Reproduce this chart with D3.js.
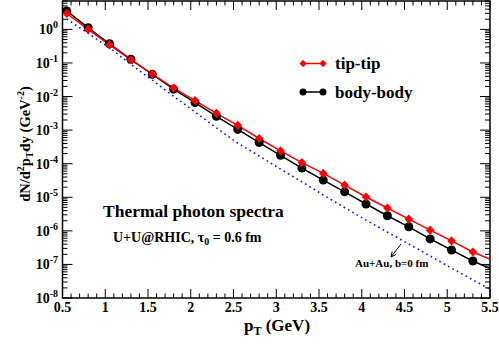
<!DOCTYPE html>
<html><head><meta charset="utf-8">
<script src="https://cdn.jsdelivr.net/npm/d3@7"></script>
<style>body{margin:0;background:#fff}svg{display:block}text{font-family:"Liberation Serif","Times New Roman",serif;font-weight:bold}</style>
</head><body><svg id="c" width="499" height="345"></svg>
<script>
const pT = [0.55,0.8,1.05,1.3,1.55,1.8,2.05,2.3,2.55,2.8,3.05,3.3,3.55,3.8,4.05,4.3,4.55,4.8,5.05,5.3];
const tipTip = [2.99,1.0,0.347,0.123,0.0468,0.0178,7.59e-3,3.16e-3,1.38e-3,5.62e-4,2.40e-4,1.07e-4,5.13e-5,2.29e-5,1.02e-5,4.79e-6,2.24e-6,1.05e-6,5.01e-7,2.34e-7];
const bodyBody = [3.55,1.12,0.372,0.129,0.0457,0.0166,6.61e-3,2.57e-3,1.05e-3,4.27e-4,1.78e-4,7.41e-5,3.24e-5,1.45e-5,6.31e-6,2.82e-6,1.32e-6,5.75e-7,2.69e-7,1.26e-7];
const endPT = 5.5;
const tipTipEnd = 1.41e-7;
const bodyBodyEnd = 7.5e-8;
const auAuPT = [0.55,0.8,1.05,1.3,1.55,1.8,2.05,2.3,2.55,2.8,3.05,3.3,3.55,3.8,4.05,4.3,4.55,4.8,5.05,5.3,5.5];
const auAu = [2.04,0.759,0.282,0.0912,0.0309,0.0102,3.47e-3,1.17e-3,4.07e-4,1.70e-4,6.92e-5,2.88e-5,1.17e-5,4.90e-6,2.09e-6,9.12e-7,4.07e-7,1.78e-7,7.76e-8,3.47e-8,1.82e-8];
const xTicks = [0.5,1,1.5,2,2.5,3,3.5,4,4.5,5,5.5];
const xTickLabels = ["0.5","1","1.5","2","2.5","3","3.5","4","4.5","5","5.5"];
const yExponents = [-8,-7,-6,-5,-4,-3,-2,-1,0];

const L=62.5,R=490,T=1,B=298;
const svg=d3.select("#c");
const x=d3.scaleLinear().domain([0.5,5.5]).range([L,R]);
const y=d3.scaleLog().domain([1e-8,7]).range([B,T]);

svg.append("defs").append("clipPath").attr("id","clip").append("rect").attr("x",L).attr("y",T).attr("width",R-L).attr("height",B-T);

// ticks
const g=svg.append("g").attr("stroke","#000").attr("stroke-width",1);
const xMinor=d3.range(0.5,5.5001,0.1);
xMinor.forEach(v=>{
  const major=xTicks.some(t=>Math.abs(t-v)<1e-6);
  const len=major?9:4.5;
  g.append("line").attr("x1",x(v)).attr("x2",x(v)).attr("y1",B).attr("y2",B-len);
  g.append("line").attr("x1",x(v)).attr("x2",x(v)).attr("y1",T).attr("y2",T+len);
});
yExponents.forEach(e=>{
  for(let k=1;k<=9;k++){
    const v=k*Math.pow(10,e);
    if(v>7) break;
    const len=k===1?10:5;
    g.append("line").attr("x1",L).attr("x2",L+len).attr("y1",y(v)).attr("y2",y(v));
    g.append("line").attr("x1",R).attr("x2",R-len).attr("y1",y(v)).attr("y2",y(v));
  }
});
svg.append("rect").attr("x",L).attr("y",T).attr("width",R-L).attr("height",B-T).attr("fill","none").attr("stroke","#000").attr("stroke-width",1.5);

// tick labels
xTicks.forEach((v,i)=>{
  svg.append("text").attr("x",x(v)).attr("y",312).attr("text-anchor","middle").attr("font-size",14).text(xTickLabels[i]);
});
yExponents.forEach(e=>{
  const t=svg.append("text").attr("x",58).attr("y",y(Math.pow(10,e))+5).attr("text-anchor","end").attr("font-size",14);
  t.append("tspan").text("10");
  t.append("tspan").attr("font-size",10).attr("dy",-6).text(String(e));
});

// curves
const plot=svg.append("g").attr("clip-path","url(#clip)");
const line=d3.line().x(d=>x(d[0])).y(d=>y(d[1]));
plot.append("path").datum(auAuPT.map((p,i)=>[p,auAu[i]])).attr("d",line).attr("fill","none").attr("stroke","#1010ff").attr("stroke-width",1.6).attr("stroke-dasharray","1.6,3.4");
plot.append("path").datum(pT.map((p,i)=>[p,bodyBody[i]]).concat([[endPT,bodyBodyEnd]])).attr("d",line).attr("fill","none").attr("stroke","#000").attr("stroke-width",1.5);
plot.append("path").datum(pT.map((p,i)=>[p,tipTip[i]]).concat([[endPT,tipTipEnd]])).attr("d",line).attr("fill","none").attr("stroke","#ff0000").attr("stroke-width",1.5);
const diamond=(cx,cy,w,h)=>`M${cx},${cy-h}L${cx+w},${cy}L${cx},${cy+h}L${cx-w},${cy}Z`;
plot.selectAll(".bb").data(pT.map((p,i)=>[p,bodyBody[i]])).join("circle").attr("cx",d=>x(d[0])).attr("cy",d=>y(d[1])).attr("r",4.5).attr("fill","#000");
plot.selectAll(".tt").data(pT.map((p,i)=>[p,tipTip[i]])).join("path").attr("d",d=>diamond(x(d[0]),y(d[1]),4.3,4.6)).attr("fill","#ff0000");

// legend
svg.append("line").attr("x1",303).attr("x2",323).attr("y1",63.5).attr("y2",63.5).attr("stroke","#ff0000").attr("stroke-width",1.5);
[303,323].forEach(cx=>svg.append("path").attr("d",diamond(cx,63.5,3.5,3.8)).attr("fill","#ff0000"));
svg.append("text").attr("x",335).attr("y",69).attr("font-size",17).text("tip-tip");
svg.append("line").attr("x1",303).attr("x2",323).attr("y1",92).attr("y2",92).attr("stroke","#000").attr("stroke-width",1.5);
[303,323].forEach(cx=>svg.append("circle").attr("cx",cx).attr("cy",92).attr("r",3.5).attr("fill","#000"));
svg.append("text").attr("x",335).attr("y",97.5).attr("font-size",17).text("body-body");

// annotations
svg.append("text").attr("x",103).attr("y",216.5).attr("font-size",17.5).text("Thermal photon spectra");
const t2=svg.append("text").attr("x",113).attr("y",241.5).attr("font-size",14);
t2.append("tspan").text("U+U@RHIC, \u03c4");
t2.append("tspan").attr("font-size",10).attr("dy",3).text("0");
t2.append("tspan").attr("dy",-3).text(" = 0.6 fm");
svg.append("text").attr("x",355).attr("y",267).attr("font-size",11).text("Au+Au, b=0 fm");
svg.append("line").attr("x1",401).attr("y1",244).attr("x2",391).attr("y2",257).attr("stroke","#000").attr("stroke-width",1);
svg.append("path").attr("d","M391,257 L392.2,251.5 M391,257 L396,254.5").attr("stroke","#000").attr("stroke-width",1).attr("fill","none");

// axis titles
const xt=svg.append("text").attr("x",277).attr("y",331).attr("text-anchor","middle").attr("font-size",17);
xt.append("tspan").text("p");
xt.append("tspan").attr("font-size",12).attr("dy",4).text("T");
xt.append("tspan").attr("dy",-4).text(" (GeV)");
const yt=svg.append("text").attr("transform","translate(30,144) rotate(-90)").attr("text-anchor","middle").attr("font-size",14.5);
yt.append("tspan").text("dN/d");
yt.append("tspan").attr("font-size",10).attr("dy",-6).text("2");
yt.append("tspan").attr("dy",6).text("p");
yt.append("tspan").attr("font-size",10).attr("dy",3).text("T");
yt.append("tspan").attr("dy",-3).text("dy (GeV");
yt.append("tspan").attr("font-size",10).attr("dy",-6).text("-2");
yt.append("tspan").attr("dy",6).text(")");
</script></body></html>
